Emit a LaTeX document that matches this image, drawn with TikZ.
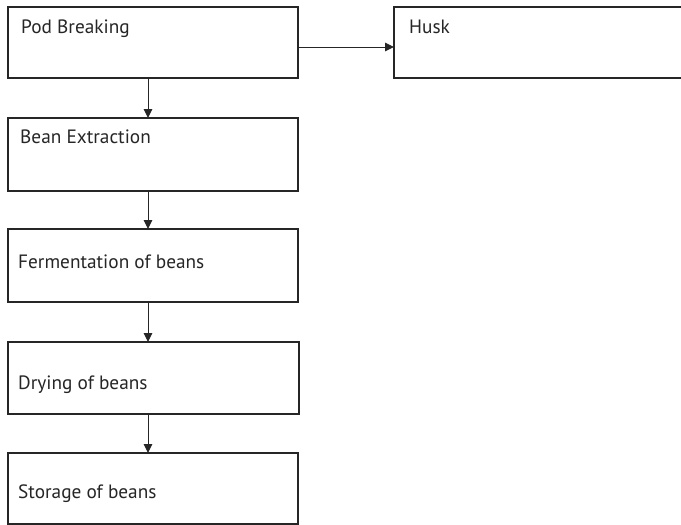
\documentclass[tikz,border=0pt]{standalone}
\usepackage{fontspec}
\setmainfont{PT Sans}
\usetikzlibrary{arrows.meta}
\begin{document}
\begin{tikzpicture}[x=1pt,y=-1pt,
  box/.style={draw=black!85,line width=2pt,fill=white},
  lbl/.style={anchor=base west,inner sep=0pt,font=\fontsize{19.3}{22}\selectfont,text=black!85},
  arr/.style={draw=black!85,line width=1pt,-{Triangle[length=9pt,width=8.5pt]}}]
\useasboundingbox (0,0) rectangle (681,525);
\begin{scope}
\clip (0,0) rectangle (681,525);
\draw[box] (8,7) rectangle (298,78);
\coordinate (b1s) at (148,78);
\coordinate (b1e) at (298,47);
\draw[box] (394,7) rectangle (690,78);
\coordinate (hw) at (394,47);
\draw[box] (8,118) rectangle (298,191);
\coordinate (b2n) at (148,118);
\coordinate (b2s) at (148,191);
\draw[box] (8,229) rectangle (298,302);
\coordinate (b3n) at (148,229);
\coordinate (b3s) at (148,302);
\draw[box] (8,342) rectangle (299,414);
\coordinate (b4n) at (148,342);
\coordinate (b4s) at (148,414);
\draw[box] (8,453) rectangle (298,524);
\coordinate (b5n) at (148,453);
\end{scope}
\node[lbl] (t1) at (21,33) {Pod Breaking};
\node[lbl] (t1h) at (409,33) {Husk};
\node[lbl] (t2) at (20,143) {Bean Extraction};
\node[lbl] (t3) at (18,268) {Fermentation of beans};
\node[lbl] (t4) at (18,389) {Drying of beans};
\node[lbl] (t5) at (18,498) {Storage of beans};
\draw[arr] (b1e) -- (hw);
\draw[arr] (b1s) -- (b2n);
\draw[arr] (b2s) -- (b3n);
\draw[arr] (b3s) -- (b4n);
\draw[arr] (b4s) -- (b5n);
\end{tikzpicture}
\end{document}
